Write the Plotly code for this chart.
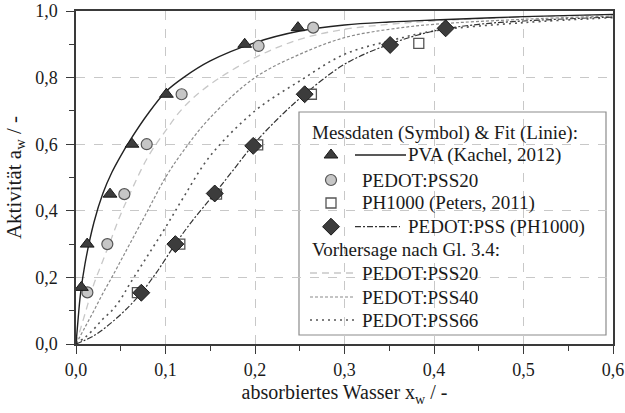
import plotly.graph_objects as go

# ---------------- data ----------------
pva_x = [0.006, 0.0125, 0.038, 0.0626, 0.101, 0.1885, 0.248]
pva_y = [0.17, 0.30, 0.45, 0.60, 0.75, 0.90, 0.95]

pss20_x = [0.0127, 0.035, 0.054, 0.079, 0.118, 0.204, 0.265]
pss20_y = [0.155, 0.30, 0.45, 0.60, 0.75, 0.895, 0.95]

ph_x = [0.0686, 0.116, 0.157, 0.203, 0.263, 0.383]
ph_y = [0.154, 0.30, 0.45, 0.598, 0.75, 0.903]

pedot_x = [0.073, 0.111, 0.155, 0.198, 0.2555, 0.351, 0.413]
pedot_y = [0.154, 0.30, 0.452, 0.595, 0.75, 0.898, 0.948]

# fit / prediction curves
pva_fit_x = [0, 0.0025, 0.005, 0.01, 0.02, 0.03, 0.04, 0.05, 0.06, 0.08, 0.10, 0.12, 0.15, 0.20, 0.25, 0.30, 0.35, 0.40, 0.50, 0.60]
pva_fit_y = [0, 0.08, 0.15, 0.24, 0.365, 0.452, 0.515, 0.565, 0.61, 0.69, 0.757, 0.80, 0.85, 0.905, 0.94, 0.958, 0.967, 0.973, 0.983, 0.99]

grid_x = [0, 0.01, 0.02, 0.03, 0.04, 0.05, 0.06, 0.08, 0.10, 0.12, 0.15, 0.20, 0.25, 0.30, 0.35, 0.40, 0.50, 0.60]
pred20_y = [0, 0.09, 0.18, 0.25, 0.32, 0.39, 0.45, 0.56, 0.64, 0.71, 0.78, 0.86, 0.915, 0.945, 0.96, 0.97, 0.982, 0.988]
pred40_y = [0, 0.05, 0.10, 0.152, 0.20, 0.25, 0.30, 0.40, 0.50, 0.58, 0.68, 0.80, 0.87, 0.92, 0.945, 0.96, 0.975, 0.985]
pred66_y = [0, 0.02, 0.045, 0.075, 0.10, 0.135, 0.18, 0.265, 0.35, 0.44, 0.565, 0.70, 0.79, 0.87, 0.91, 0.94, 0.965, 0.98]

ph_fit_x = [0, 0.02, 0.04, 0.06, 0.073, 0.09, 0.111, 0.13, 0.155, 0.175, 0.198, 0.225, 0.2555, 0.30, 0.35, 0.40, 0.45, 0.50, 0.60]
ph_fit_y = [0, 0.025, 0.065, 0.115, 0.154, 0.215, 0.30, 0.37, 0.452, 0.52, 0.598, 0.675, 0.75, 0.84, 0.90, 0.94, 0.96, 0.97, 0.982]

x_ticks = [0, 0.1, 0.2, 0.3, 0.4, 0.5, 0.6]
y_ticks = [0, 0.2, 0.4, 0.6, 0.8, 1.0]

# ---------------- layout helpers ----------------
W, H = 625, 413
ML, MR, MT, MB = 76, 12, 11, 69
PW, PH = W - ML - MR, H - MT - MB
FONT = "Times New Roman, Liberation Serif, serif"
TXT = "#1a1a1a"


def px(xp):
    return (xp - ML) / PW


def py(yp):
    return (H - MB - yp) / PH


DARK = "#3c3c3c"
LIGHT = "#c6c6c6"
M_TRI = dict(symbol="triangle-up", size=12, color=DARK, line=dict(color="#1a1a1a", width=1))
M_CIR = dict(symbol="circle", size=11, color=LIGHT, line=dict(color="#555555", width=1.2))
M_SQR = dict(symbol="square", size=10, color="white", line=dict(color="#555555", width=1.3))
M_DIA = dict(symbol="diamond", size=13, color=DARK, line=dict(color="#1a1a1a", width=1))

L_PVA = dict(color="#222222", width=1.4)
L_PH = dict(color="#333333", width=1.2, dash="6px,2px,2px,2px")
L_20 = dict(color="#c8c8c8", width=1.3, dash="7px,5px")
L_40 = dict(color="#8a8a8a", width=1.2, dash="3px,2px")
L_66 = dict(color="#555555", width=1.6, dash="2px,4px")

fig = go.Figure()

# curves
fig.add_trace(go.Scatter(x=grid_x, y=pred20_y, mode="lines", line=L_20, line_shape="spline"))
fig.add_trace(go.Scatter(x=grid_x, y=pred40_y, mode="lines", line=L_40, line_shape="spline"))
fig.add_trace(go.Scatter(x=grid_x, y=pred66_y, mode="lines", line=L_66, line_shape="spline"))
fig.add_trace(go.Scatter(x=ph_fit_x, y=ph_fit_y, mode="lines", line=L_PH, line_shape="spline"))
fig.add_trace(go.Scatter(x=pva_fit_x, y=pva_fit_y, mode="lines", line=L_PVA, line_shape="spline"))

# markers
fig.add_trace(go.Scatter(x=ph_x, y=ph_y, mode="markers", marker=M_SQR))
fig.add_trace(go.Scatter(x=pedot_x, y=pedot_y, mode="markers", marker=M_DIA))
fig.add_trace(go.Scatter(x=pss20_x, y=pss20_y, mode="markers", marker=M_CIR))
fig.add_trace(go.Scatter(x=pva_x, y=pva_y, mode="markers", marker=M_TRI))

# ---------------- legend (manual) ----------------
fig.add_shape(type="rect", xref="paper", yref="paper", x0=px(299), x1=px(606), y0=py(335), y1=py(112),
              fillcolor="white", line=dict(color="#8c8c8c", width=1.2), layer="between")

mk_x = px(331)
for yy, m in [(155, M_TRI), (180, M_CIR), (203, M_SQR), (226.7, M_DIA)]:
    fig.add_trace(go.Scatter(x=[mk_x], y=[py(yy)], mode="markers", marker=m, xaxis="x2", yaxis="y2"))

for x0, x1, yy, ln in [(355, 406, 155, L_PVA), (355, 400, 226.7, L_PH),
                       (310, 355, 273, L_20), (310, 355, 297, L_40), (310, 355, 320, L_66)]:
    fig.add_trace(go.Scatter(x=[px(x0), px(x1)], y=[py(yy), py(yy)], mode="lines", line=ln, xaxis="x2", yaxis="y2"))

legend_texts = [
    (311, 133, "Messdaten (Symbol) & Fit (Linie):"),
    (407, 155, "PVA (Kachel, 2012)"),
    (361, 180, "PEDOT:PSS20"),
    (361, 203, "PH1000 (Peters, 2011)"),
    (407, 226.7, "PEDOT:PSS (PH1000)"),
    (311, 250, "Vorhersage nach Gl. 3.4:"),
    (361, 273, "PEDOT:PSS20"),
    (361, 297, "PEDOT:PSS40"),
    (361, 320, "PEDOT:PSS66"),
]
for xx, yy, t in legend_texts:
    fig.add_annotation(x=px(xx), y=py(yy), xref="paper", yref="paper", text=t, showarrow=False,
                       xanchor="left", yanchor="middle", font=dict(family=FONT, size=19, color=TXT), borderpad=0)

axis_common = dict(
    showline=True, linecolor="#3a3a3a", linewidth=1.5, mirror=True,
    ticks="outside", ticklen=8, tickwidth=1.2, tickcolor="#3a3a3a",
    showgrid=True, gridcolor="#c8c8c8", gridwidth=1, griddash="dash",
    zeroline=False, tickformat=".1f", automargin=False,
    tickfont=dict(family=FONT, size=18, color=TXT),
)

fig.update_layout(
    width=W, height=H,
    margin=dict(l=ML, r=MR, t=MT, b=MB),
    plot_bgcolor="white", paper_bgcolor="white",
    showlegend=False,
    separators=", ",
    font=dict(family=FONT, color=TXT),
    xaxis=dict(range=[0, 0.6], tickvals=x_ticks,
               minor=dict(dtick=0.05, ticks="outside", ticklen=5, tickcolor="#3a3a3a", showgrid=False),
               title=dict(text="absorbiertes Wasser x<sub>w</sub> / -", font=dict(family=FONT, size=20, color=TXT), standoff=6),
               ticklabelstandoff=1,
               **axis_common),
    yaxis=dict(range=[0, 1.0], tickvals=y_ticks,
               minor=dict(dtick=0.1, ticks="outside", ticklen=5, tickcolor="#3a3a3a", showgrid=False),
               title=dict(text="Aktivität a<sub>w</sub> / -", font=dict(family=FONT, size=21, color=TXT), standoff=8),
               ticklabelstandoff=5,
               **axis_common),
    xaxis2=dict(overlaying="x", range=[0, 1], visible=False),
    yaxis2=dict(overlaying="y", range=[0, 1], visible=False),
)

fig.write_html("out.html")
